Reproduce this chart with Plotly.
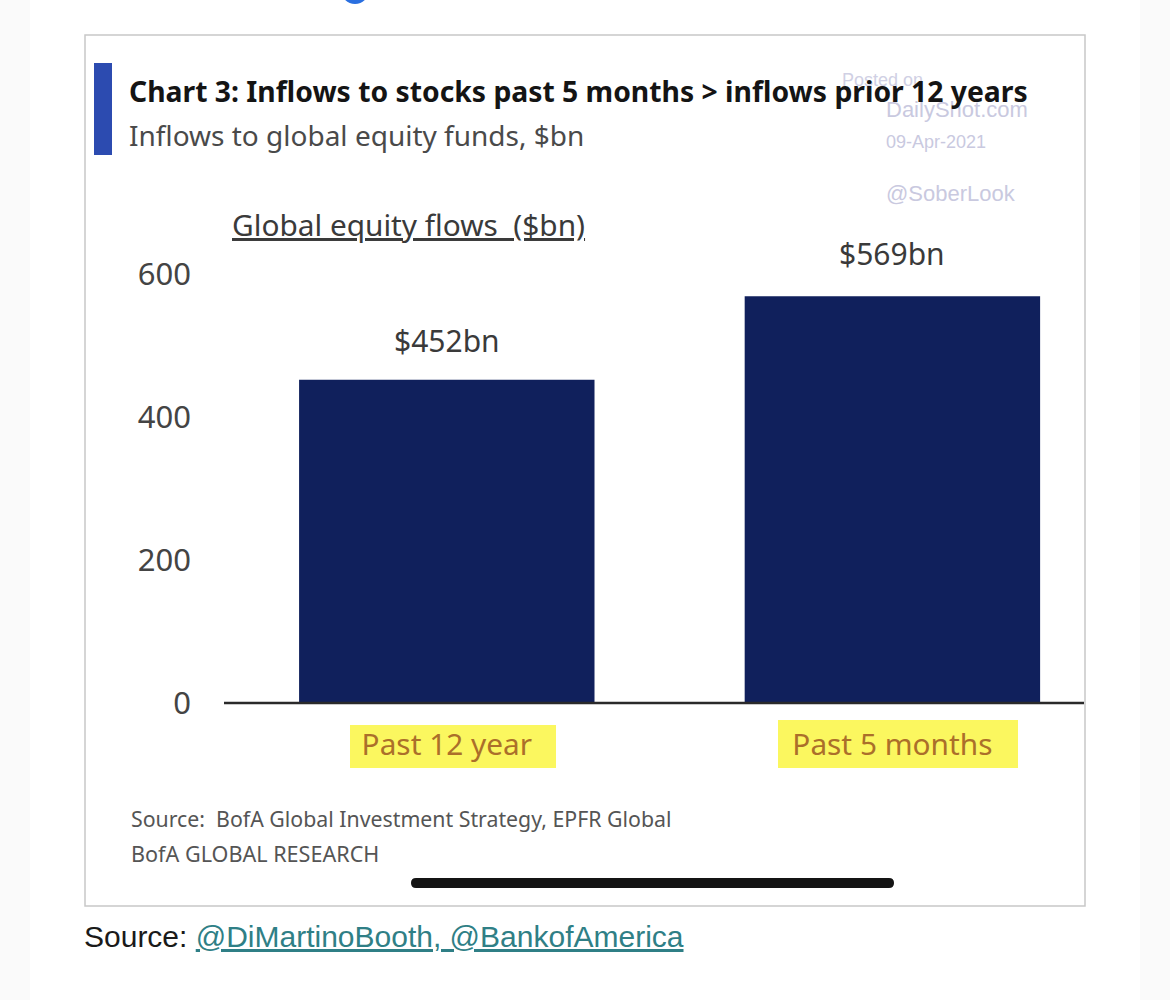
import plotly.graph_objects as go

W, H = 1170, 1000

periods = ['Past 12 year', 'Past 5 months']
flows = [452, 569]
labels = ['$452bn', '$569bn']
label_shift = [17, 20]


def px(x):
    return x / W


def py(y):
    return 1 - y / H


def box(x0, y0, x1, y1, fill, line=None, width=0):
    return dict(type='rect', xref='paper', yref='paper', x0=px(x0), x1=px(x1), y0=py(y0), y1=py(y1),
                fillcolor=fill, line=dict(color=line, width=width), layer='below')


def note(x, y, text, size, color, anchor='left', font='Noto Sans'):
    # annotations carry about 2px of padding on the left
    return dict(xref='paper', yref='paper', x=px(x - 2), y=py(y), text=text, showarrow=False,
                xanchor=anchor, yanchor='middle', align='left', borderpad=0,
                font=dict(size=size, color=color, family=font))


fig = go.Figure()
fig.add_trace(go.Bar(x=periods, y=flows, width=0.663, marker_color='#10205c', marker_line_width=0,
                     showlegend=False, hoverinfo='x+y'))

shapes = [
    box(30, 0, 1140, 1000, 'white'),
    box(85, 35, 1085, 906, 'white', '#c8c8c8', 1.5),
    box(94, 63, 112, 155, '#2c4bb0'),
    box(350, 725, 556, 768, '#fbf75f'),
    box(778, 720, 1018, 768, '#fbf75f'),
    dict(type='circle', xref='paper', yref='paper', x0=px(341), x1=px(369), y0=py(4), y1=py(-24),
         fillcolor='#2a6fe0', line_width=0, layer='below'),
    dict(type='line', xref='paper', yref='paper', x0=px(224), x1=px(1084), y0=py(703), y1=py(703),
         line=dict(color='#2a2a2a', width=2.5)),
    dict(type='path', xref='paper', yref='paper',
         path=f'M {px(416)} {py(878)} L {px(889)} {py(878)} Q {px(894)} {py(878)} {px(894)} {py(883)} '
              f'Q {px(894)} {py(888)} {px(889)} {py(888)} L {px(416)} {py(888)} '
              f'Q {px(411)} {py(888)} {px(411)} {py(883)} Q {px(411)} {py(878)} {px(416)} {py(878)} Z',
         fillcolor='#141414', line_width=0),
]

link = '<span style="color:#2f7f86"><u>@DiMartinoBooth, @BankofAmerica</u></span>'
notes = [
    note(843, 80, 'Posted on', 18, '#d0d0e4', font='Liberation Sans'),
    note(887, 110, 'DailyShot.com', 22, '#c9c9df', font='Liberation Sans'),
    note(887, 142, '09-Apr-2021', 18, '#c9c9df', font='Liberation Sans'),
    note(887, 193, '@SoberLook', 22, '#c9c9df', font='Liberation Sans'),
    note(130, 91, '<b>Chart 3: Inflows to stocks past 5 months &gt; inflows prior 12 years</b>', 28.3, '#141414'),
    note(130, 135, 'Inflows to global equity funds, $bn', 28, '#4a4a4a'),
    note(233, 225, '<u>Global equity flows  ($bn)</u>', 29.8, '#3a3a3a'),
    note(132, 818, 'Source:  BofA Global Investment Strategy, EPFR Global', 21.3, '#555555'),
    note(132, 853, 'BofA GLOBAL RESEARCH', 21.6, '#555555'),
    note(85, 936, 'Source: ' + link, 30, '#1a1a1a', font='Liberation Sans'),
]
for p, v, t, s in zip(periods, flows, labels, label_shift):
    notes.append(dict(x=p, y=v, xref='x', yref='y', text=t, showarrow=False, yanchor='bottom', yshift=s,
                      font=dict(size=30, color='#3a3a3a', family='Noto Sans')))

fig.update_layout(
    width=W, height=H, margin=dict(l=0, r=0, t=0, b=0), autosize=False,
    paper_bgcolor='#fafafa', plot_bgcolor='rgba(0,0,0,0)', shapes=shapes, annotations=notes,
    font=dict(family='Noto Sans'),
    xaxis=dict(domain=[px(224), px(1084)], range=[-0.5, 1.43], showgrid=False, showline=False, zeroline=False,
               automargin=False, ticks='', ticklabelstandoff=21, tickfont=dict(size=29.8, color='#ab6f2a')),
    yaxis=dict(domain=[py(703), py(274)], range=[0, 600], tickvals=[0, 200, 400, 600], showgrid=False,
               showline=False, zeroline=False, automargin=False, ticks='', ticklabelstandoff=32,
               tickfont=dict(size=31, color='#444444')),
)
fig.write_html('out.html', config={'displayModeBar': False}, post_script='document.body.style.margin = "0";')
